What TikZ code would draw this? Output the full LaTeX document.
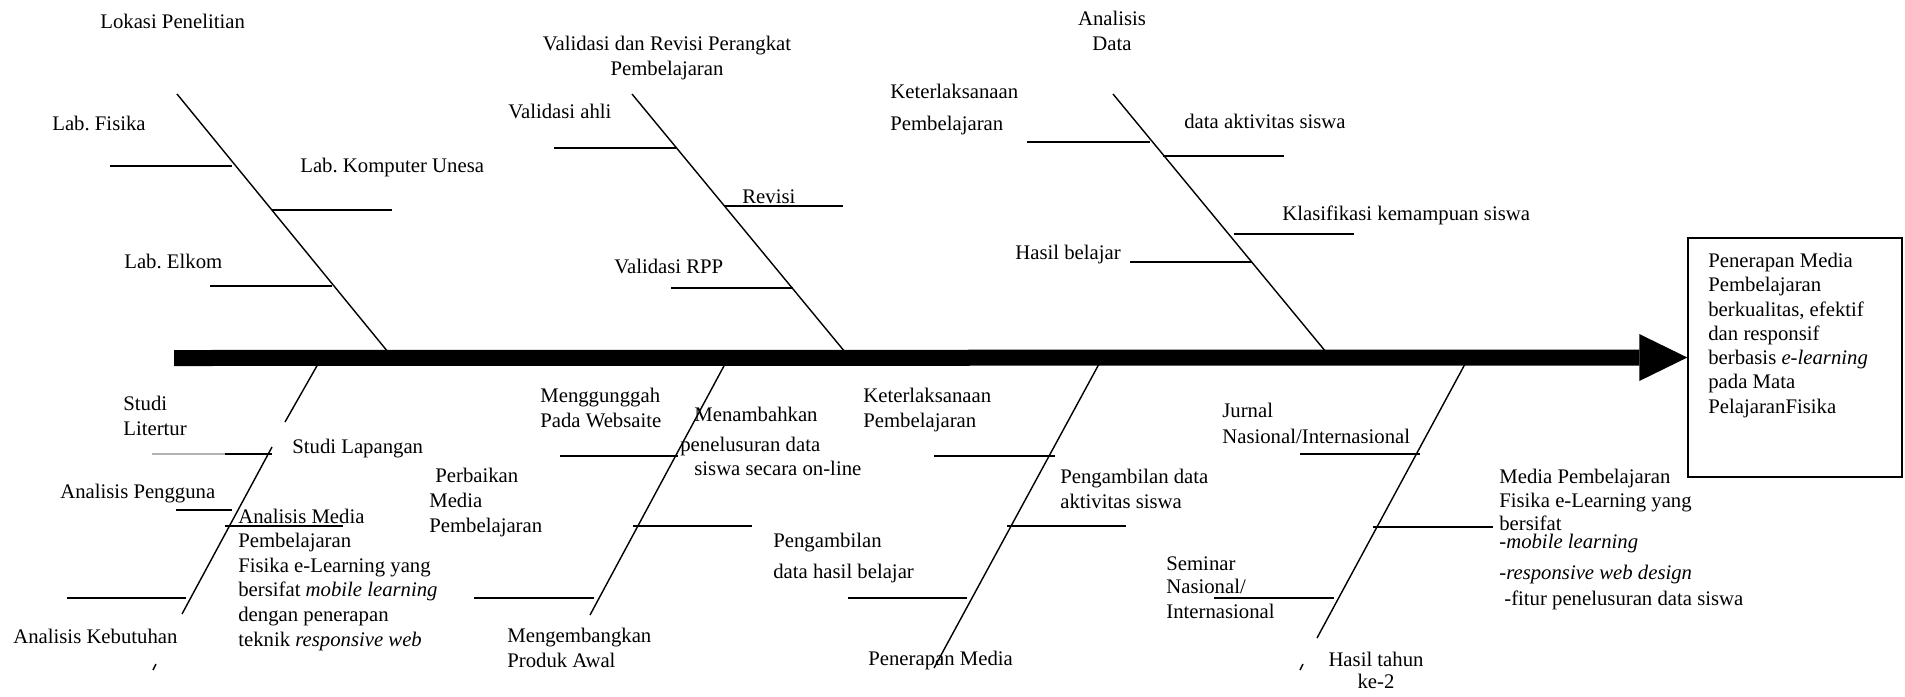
\documentclass[tikz,border=0pt]{standalone}
\usepackage{fontspec}
\setmainfont{Liberation Serif}
\usetikzlibrary{arrows.meta}

\begin{document}
\frenchspacing
\begin{tikzpicture}[
  x=0.2mm, y=-0.2mm,
  cause/.style={anchor=base west, inner sep=0pt, align=left,
    font=\fontsize{11.8}{14}\selectfont},
  head/.style={anchor=base, inner sep=0pt, align=center,
    font=\fontsize{11.8}{14.2}\selectfont},
  bone/.style={line width=0.8pt},
  rib/.style={line width=1.1pt},
  thinrib/.style={line width=0.6pt},
  spine/.style={line width=3.2mm,
    -{Triangle[length=9.6mm, width=9.4mm, line width=0pt]}},
]
\useasboundingbox (0,0) rectangle (1905,696);

% Effect box (multi-line texts sit on their last baseline)
\node[draw, line width=0.8pt, minimum width=42.8mm, minimum height=47.8mm,
  inner sep=0pt] (goal) at (1795,357.5) {};
\node[cause, font=\fontsize{11.8}{13.8}\selectfont] (goalT) at (1708,413)
  {Penerapan Media\\Pembelajaran\\berkualitas, efektif\\dan responsif\\
   berbasis \textit{e-learning}\\pada Mata\\PelajaranFisika};

% 1. Lokasi Penelitian
\node[cause] (lokT) at (100,28) {Lokasi Penelitian};
\draw[bone] (177,94) -- (388,352);
\draw[rib] (110,166) -- (232,166);
\draw[rib] (272,210) -- (392,210);
\draw[rib] (210,286) -- (332,286);
\node[cause] (fisT) at (52,130) {Lab. Fisika};
\node[cause] (komT) at (300,172) {Lab. Komputer Unesa};
\node[cause] (elkT) at (124,268) {Lab. Elkom};

% 2. Validasi dan Revisi
\node[head] (valT) at (667,75) {Validasi dan Revisi Perangkat\\Pembelajaran};
\draw[bone] (632,94) -- (845,352);
\draw[rib] (554,148) -- (676,148);
\draw[thinrib] (724,206) -- (843,206);
\draw[rib] (671,288) -- (793,288);
\node[cause] (ahlT) at (508,118) {Validasi ahli};
\node[cause] (revT) at (742,203) {Revisi};
\node[cause] (rppT) at (614,273) {Validasi RPP};

% 3. Analisis Data
\node[head] (anaT) at (1112,50) {Analisis\\Data};
\draw[bone] (1113,94) -- (1326,352);
\draw[rib] (1027,142) -- (1150,142);
\draw[rib] (1163,156) -- (1284,156);
\draw[rib] (1234,234) -- (1354,234);
\draw[thinrib] (1130,262) -- (1252,262);
\node[cause] (ketT) at (890,130) {Keterlaksanaan\\[4.2pt]Pembelajaran};
\node[cause] (aktT) at (1184,128) {data aktivitas siswa};
\node[cause] (klaT) at (1282,220) {Klasifikasi kemampuan siswa};
\node[cause] (hbT) at (1015,259) {Hasil belajar};

% 4. Studi / Analisis
\draw[bone] (318,364) -- (285,422);
\draw[bone] (272,447) -- (182,614);
\draw[bone] (156,664) -- (153,670);
\draw[thinrib, gray!60] (152,454) -- (225,454);
\draw[rib] (225,454) -- (272,454);
\draw[rib] (176,510) -- (232,510);
\draw[rib] (225,526) -- (343,526);
\draw[rib] (67,598) -- (186,598);
\node[cause] (litT) at (123,435) {Studi\\Litertur};
\node[cause] (lapT) at (292,453) {Studi Lapangan};
\node[cause] (pengT) at (60,498) {Analisis Pengguna};
\node[cause] (amT) at (238,646) {Analisis Media\\Pembelajaran\\Fisika e-Learning yang\\
  bersifat \textit{mobile learning}\\dengan penerapan\\teknik \textit{responsive web}};
\node[cause] (kebT) at (13,643) {Analisis Kebutuhan};

% 5. Mengembangkan Produk Awal
\draw[bone] (725,364) -- (590,615);
\draw[thinrib] (560,456) -- (678,456);
\draw[rib] (633,526) -- (752,526);
\draw[rib] (474,598) -- (594,598);
\node[cause] (ungT) at (540,427) {Menggunggah\\Pada Websaite};
\node[cause] (addT) at (680,475) {\hspace*{2.8mm}Menambahkan\\[3.1pt]penelusuran data\\[-0.9pt]
  \hspace*{2.8mm}siswa secara on-line};
\node[cause] (perT) at (429,532) {\hspace*{1.2mm}Perbaikan\\Media\\Pembelajaran};
\node[cause] (hslT) at (773,578) {Pengambilan\\[3.1pt]data hasil belajar};
\node[cause] (dvT) at (507,667) {Mengembangkan\\Produk Awal};

% 6. Penerapan Media
\draw[bone] (1099,364) -- (934,668);
\draw[thinrib] (934,456) -- (1055,456);
\draw[rib] (1007,526) -- (1126,526);
\draw[rib] (848,598) -- (967,598);
\node[cause] (kpT) at (863,427) {Keterlaksanaan\\Pembelajaran};
\node[cause] (padT) at (1060,508) {Pengambilan data\\aktivitas siswa};
\node[cause] (penT) at (868,665) {Penerapan Media};

% 7. Hasil tahun ke-2
\draw[bone] (1465,364) -- (1317,638);
\draw[bone] (1303,664) -- (1300,670);
\draw[rib] (1300,454) -- (1420,454);
\draw[rib] (1373,527) -- (1493,527);
\draw[rib] (1214,598) -- (1334,598);
\node[cause] (jurT) at (1222,443) {Jurnal\\[0.8pt]Nasional/Internasional};
\node[cause] (semT) at (1166,618) {Seminar\\[-0.9pt]Nasional/\\[0.2pt]Internasional};
\node[cause] (medT) at (1499,605) {Media Pembelajaran\\[-0.3pt]Fisika e-Learning yang\\[-0.9pt]
  bersifat\\[-3.8pt]\textit{-mobile learning}\\[3.6pt]\textit{-responsive web design}\\[0.8pt]
  \hspace*{1mm}-fitur penelusuran data siswa};
\node[head] (h2T) at (1376,688) {Hasil tahun\\[-2pt]ke-2};

% Spine
\coordinate (tail) at (174,358);
\draw[spine] (tail) -- (goal.west);

\end{tikzpicture}
\end{document}
